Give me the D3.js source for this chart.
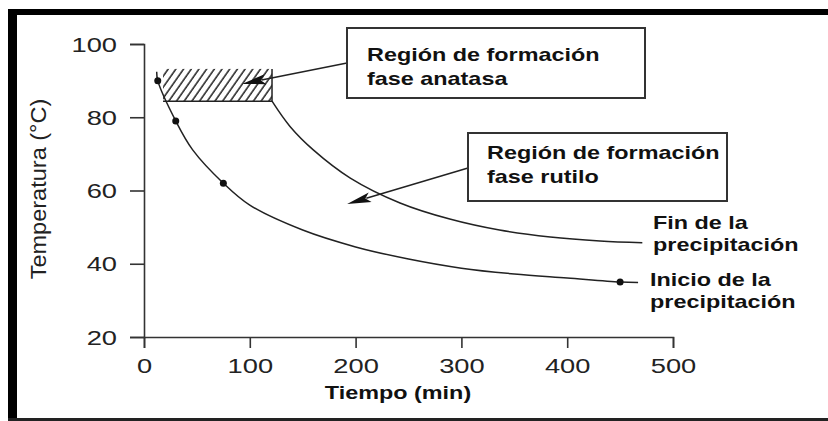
<!DOCTYPE html>
<html>
<head>
<meta charset="utf-8">
<script src="https://cdn.jsdelivr.net/npm/d3@7"></script>
<style>
  body { margin: 0; background: #fff; }
  svg { display: block; }
</style>
</head>
<body>
<svg id="chart" width="828" height="421"></svg>
<script>
// Axis ticks
const xTicks = [0, 100, 200, 300, 400, 500];
const yTicks = [20, 40, 60, 80, 100];

// "Inicio de la precipitación" curve (time in min, temperature in °C)
const inicioTime = [12, 13, 30, 46, 75, 100, 150, 200, 250, 300, 350, 400, 450, 467];
const inicioTemp = [92.4, 90, 79, 71.1, 62, 56.0, 49.2, 44.6, 41.3, 38.8, 37.2, 36.1, 35, 34.9];

// Measured points on the start-of-precipitation curve
const dotTime = [13, 30, 75, 450];
const dotTemp = [90, 79, 62, 35];

// "Fin de la precipitación" curve
const finTime = [121, 138, 160, 195, 242, 289, 336, 384, 431, 471];
const finTemp = [84.4, 77.5, 71.1, 63.4, 56.6, 52.2, 49.2, 47.3, 46.2, 45.7];

// Anatase formation region (time range, temperature range)
const anataseTime = [18, 121];
const anataseTemp = [84.4, 93.2];

// Arrow tips pointing into each region (time, temperature)
const anataseTip = [92.6, 89.1];
const rutileTip = [192, 56.3];

const SX = 1.3;               // horizontal glyph stretch used for all labels
const FONT = "'Liberation Sans', Arial, sans-serif";
const INK = "#111";
const AXIS = "#333";

const svg = d3.select("#chart");
svg.append("rect").attr("width", 828).attr("height", 421).attr("fill", "#fff");

const x = d3.scaleLinear().domain([0, 500]).range([144, 673]);
const y = d3.scaleLinear().domain([20, 100]).range([337, 44]);

// Hatch pattern for the anatase region
const defs = svg.append("defs");
const pat = defs.append("pattern")
  .attr("id", "hatch")
  .attr("patternUnits", "userSpaceOnUse")
  .attr("width", 6.3).attr("height", 20)
  .attr("patternTransform", "rotate(35)");
pat.append("line")
  .attr("x1", 1).attr("y1", 0).attr("x2", 1).attr("y2", 20)
  .attr("stroke", "#222").attr("stroke-width", 1.5);

// Axes
const gx = svg.append("g")
  .attr("transform", `translate(0,${y(20)})`)
  .call(d3.axisBottom(x).tickValues(xTicks).tickSize(11).tickSizeOuter(11));
const gy = svg.append("g")
  .attr("transform", `translate(${x(0)},0)`)
  .call(d3.axisLeft(y).tickValues(yTicks).tickSize(14).tickSizeOuter(14));

[gx, gy].forEach(g => {
  g.selectAll("path, line").attr("stroke", AXIS).attr("stroke-width", 1.6);
  g.selectAll("text")
    .attr("font-family", FONT).attr("font-size", 21).attr("fill", "#222");
});
gx.selectAll(".tick text")
  .attr("y", 21).attr("dy", "0.71em")
  .attr("transform", `scale(${SX},1)`);
gy.selectAll(".tick text")
  .attr("x", -27 / SX).attr("dy", "0.34em")
  .attr("transform", `scale(${SX},1)`);

// Stretched text helper
function label(px, py, str, opts = {}) {
  const g = svg.append("g").attr("transform", `translate(${px},${py})${opts.rotate ? ` rotate(${opts.rotate})` : ""}`);
  g.append("text")
    .attr("transform", `scale(${opts.sx || SX},1)`)
    .attr("text-anchor", opts.anchor || "start")
    .attr("font-family", FONT)
    .attr("font-size", opts.size || 18)
    .attr("font-weight", opts.weight || "bold")
    .attr("fill", opts.fill || INK)
    .text(str);
}

// Axis titles
label(398, 399, "Tiempo (min)", { anchor: "middle", size: 18 });
label(46, 189, "Temperatura (°C)", { anchor: "middle", size: 22, weight: "normal", rotate: -90, sx: 1.07, fill: "#222" });

// Anatase region
const ax0 = x(anataseTime[0]), ax1 = x(anataseTime[1]);
const ay0 = y(anataseTemp[1]), ay1 = y(anataseTemp[0]);
svg.append("rect")
  .attr("x", ax0).attr("y", ay0)
  .attr("width", ax1 - ax0).attr("height", ay1 - ay0)
  .attr("fill", "url(#hatch)");
svg.append("path")
  .attr("d", `M${ax0},${ay1}H${ax1}V${ay0}`)
  .attr("fill", "none").attr("stroke", "#222").attr("stroke-width", 1.5);

// Curves
const line = d3.line().curve(d3.curveCatmullRom.alpha(0.5));
svg.append("path")
  .attr("d", line(inicioTime.map((t, i) => [x(t), y(inicioTemp[i])])))
  .attr("fill", "none").attr("stroke", "#222").attr("stroke-width", 1.5);
svg.append("path")
  .attr("d", line(finTime.map((t, i) => [x(t), y(finTemp[i])])))
  .attr("fill", "none").attr("stroke", "#222").attr("stroke-width", 1.5);

svg.selectAll("circle.pt")
  .data(dotTime.map((t, i) => [t, dotTemp[i]]))
  .join("circle")
  .attr("class", "pt")
  .attr("cx", d => x(d[0])).attr("cy", d => y(d[1]))
  .attr("r", 3.5).attr("fill", "#111");

// Arrows
function arrow(x0, y0, x1, y1, len = 24, half = 5) {
  const dx = x1 - x0, dy = y1 - y0, d = Math.hypot(dx, dy);
  const ux = dx / d, uy = dy / d;
  const bx = x1 - ux * len, by = y1 - uy * len;
  svg.append("line")
    .attr("x1", x0).attr("y1", y0).attr("x2", bx + ux * 4).attr("y2", by + uy * 4)
    .attr("stroke", "#222").attr("stroke-width", 1.5);
  svg.append("path")
    .attr("d", `M${x1},${y1}L${bx - uy * half},${by + ux * half}L${bx + ux * 5},${by + uy * 5}L${bx + uy * half},${by - ux * half}Z`)
    .attr("fill", "#111");
}
arrow(347, 63, x(anataseTip[0]), y(anataseTip[1]));
arrow(468, 168, x(rutileTip[0]), y(rutileTip[1]));

// Annotation boxes
svg.append("rect").attr("x", 347).attr("y", 28).attr("width", 298).attr("height", 70)
  .attr("fill", "#fff").attr("stroke", "#333").attr("stroke-width", 2);
label(367, 61, "Región de formación");
label(367, 85, "fase anatasa");

svg.append("rect").attr("x", 468).attr("y", 133).attr("width", 259).attr("height", 68)
  .attr("fill", "#fff").attr("stroke", "#333").attr("stroke-width", 2);
label(487, 159, "Región de formación");
label(487, 183, "fase rutilo");

// Curve labels
label(653, 229, "Fin de la");
label(653, 251, "precipitación");
label(650, 286, "Inicio de la");
label(650, 308, "precipitación");

// Frame
svg.append("rect").attr("x", 8).attr("y", 9).attr("width", 820).attr("height", 6).attr("fill", "#000");
svg.append("rect").attr("x", 8).attr("y", 9).attr("width", 9).attr("height", 412).attr("fill", "#000");
svg.append("rect").attr("x", 8).attr("y", 418).attr("width", 820).attr("height", 3).attr("fill", "#222");
</script>
</body>
</html>
